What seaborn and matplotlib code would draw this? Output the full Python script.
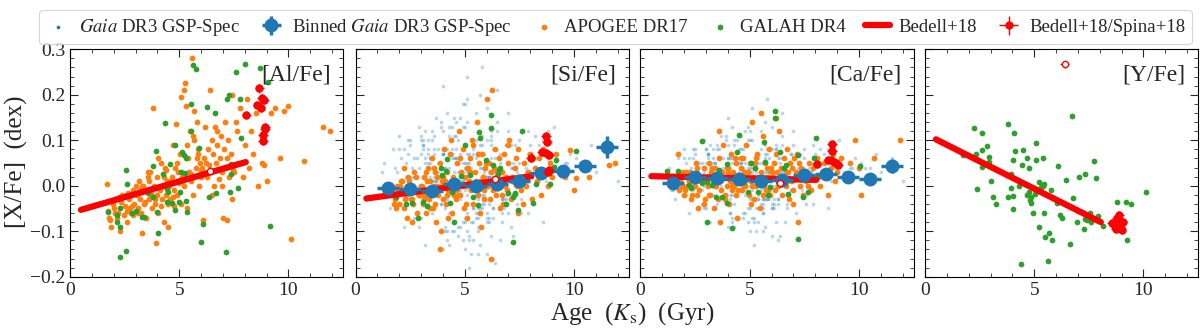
import numpy as np
import matplotlib
matplotlib.use("Agg")
import matplotlib.pyplot as plt
import seaborn as sns
from matplotlib.ticker import MultipleLocator

sns.set_style("ticks")
plt.rcParams['font.family'] = ['Liberation Serif', 'DejaVu Serif']
plt.rcParams['mathtext.fontset'] = 'stix'
plt.rcParams['axes.unicode_minus'] = True

BLUE, ORANGE, GREEN, RED = '#1f77b4', '#ff7f0e', '#2ca02c', '#ff0000'

# ---------------- Gaia DR3 GSP-Spec (individual stars) ----------------
gaia_age = [
 5.2,4.1,6.3,3.7,5.8,7.2,2.9,4.6,5.5,6.8,3.3,4.9,8.1,5.1,2.4,6.0,4.4,7.6,5.7,3.9,6.5,4.8,1.9,5.3,7.0,4.2,6.1,3.5,8.6,5.0,
 4.7,6.4,3.1,5.6,2.7,7.4,4.3,5.9,6.7,3.8,9.2,5.4,4.0,6.2,2.2,7.8,5.1,4.5,3.4,6.9,5.7,8.3,4.8,3.0,6.0,5.2,7.1,1.6,4.6,5.8,
 6.6,3.6,5.0,4.2,7.5,2.8,5.5,6.3,4.9,8.8,3.2,5.9,4.4,6.8,2.5,5.3,7.3,4.1,6.1,3.9,5.6,9.6,4.7,2.1,6.4,5.1,7.9,3.7,5.4,4.0,
 5.8,6.9,3.3,4.6,7.7,5.2,2.6,6.2,4.3,5.7,8.4,3.5,6.5,4.8,1.4,5.0,7.1,4.1,6.0,3.8,5.4,10.1,4.5,6.7,2.9,5.6,7.4,3.1,4.9,6.3,
 4.4,5.9,7.0,3.4,6.1,2.3,5.3,8.0,4.7,6.6,3.0,5.5,4.2,9.0,5.8,2.0,6.4,4.9,7.6,3.6,5.1,6.8,4.0,8.7,5.7,3.2,6.2,4.6,1.8,5.4,
 6.0,4.3,7.3,5.0,3.7,6.5,2.7,5.6,4.5,8.2,3.9,5.2,6.9,4.8,10.5,5.9,3.1,6.3,4.1,7.8,5.5,2.4,4.7,6.7,3.4,9.4,5.1,4.2,7.2,5.7,
 3.8,5.4,6.1,4.6,2.8,7.5,5.0,4.0,6.6,3.3,8.5,5.8,4.4,1.2,6.2,5.3,3.6,7.0,4.9,5.6,2.5,6.8,4.1,9.8,5.2,3.5,6.4,4.7,7.9,5.9,
 4.5,6.0,3.0,5.5,7.4,4.2,2.2,6.5,5.1,8.9,3.9,4.8,6.3,5.7,2.9,7.2,4.3,5.4,3.2,6.9,11.0,4.6,5.0,7.7,3.7,6.1,4.0,5.8,2.6,6.7,
 5.3,4.1,6.6,3.5,8.1,5.6,2.1,4.9,6.2,7.1,3.8,5.2,4.4,9.3,6.0,1.7,5.9,4.7,7.6,3.3,6.4,5.0,2.8,8.3,4.3,5.7,6.8,3.6,5.1,10.8,
 4.6,7.3,5.4,3.1,6.1,4.0,8.6,5.8,2.4,6.5,4.8,3.9,7.0,5.2,11.5,4.5,6.3,3.4,5.6,2.0,7.8,4.2,5.9,6.7,3.7,9.1,5.0,4.9,6.0,2.7,
 5.5,3.6,6.4,4.3,7.5,5.1,2.6,4.7,8.0,6.2,3.2,5.8,4.1,6.9,1.5,5.3,7.2,4.6,3.9,6.6,9.7,5.6,4.4,2.3,6.0,5.0,7.7,3.5,4.8,8.8,
 6.3,4.9,3.0,5.7,7.4,4.0,5.2,2.9,6.8,8.4,3.8,5.4,4.5,10.3,6.1,3.3,5.9,4.2,7.1,2.2,5.5,6.5,4.7,1.3,5.1,7.9,3.7,6.2,4.4,12.0]
gaia_si = [
 0.03,-0.05,0.08,-0.02,0.11,0.04,-0.09,0.01,-0.06,0.07,0.05,-0.12,0.02,0.14,-0.03,-0.08,0.06,0.00,0.09,-0.04,0.12,-0.01,0.03,-0.15,0.05,0.08,-0.07,0.01,0.10,0.18,
 -0.02,0.06,0.10,-0.10,0.02,-0.04,0.13,0.04,-0.08,0.00,0.06,0.07,-0.14,0.09,-0.01,0.03,-0.06,0.15,0.05,-0.03,0.20,0.01,-0.09,0.07,0.02,-0.11,0.04,-0.05,0.08,-0.02,
 0.05,0.11,-0.07,0.03,0.08,-0.02,0.16,-0.05,0.01,0.12,-0.13,0.04,0.07,-0.03,0.09,0.00,0.06,-0.10,0.02,0.13,-0.06,0.05,0.10,-0.04,-0.17,0.03,0.07,0.01,-0.08,0.22,
 0.00,0.09,-0.04,0.06,0.02,-0.12,0.04,0.10,-0.01,0.07,0.03,-0.06,0.14,0.01,-0.02,0.05,-0.09,0.08,0.17,0.02,-0.05,0.06,0.11,-0.03,0.04,-0.15,0.00,0.09,0.03,-0.07,
 0.07,-0.03,0.12,0.02,-0.08,0.05,0.01,0.09,-0.11,0.04,0.10,-0.02,0.06,0.03,-0.05,0.08,0.00,0.13,-0.06,0.02,0.24,-0.04,0.07,0.01,-0.13,0.05,0.11,-0.01,0.04,0.08,
 -0.06,0.04,0.09,-0.01,0.15,0.02,0.06,-0.09,0.03,0.11,-0.04,0.07,0.00,0.12,0.05,-0.02,0.08,-0.16,0.04,0.01,-0.07,0.10,0.03,-0.03,0.06,0.02,0.19,-0.10,0.05,0.00,
 0.08,-0.04,0.02,0.11,-0.06,0.05,0.13,0.00,-0.12,0.07,0.04,0.09,-0.02,0.03,0.06,-0.08,0.01,0.16,0.05,-0.05,0.10,0.02,-0.03,0.07,-0.18,0.04,0.08,-0.01,0.12,0.03,
 0.01,0.10,-0.07,0.06,0.03,-0.03,0.08,0.21,-0.10,0.05,0.02,0.07,-0.05,0.11,0.00,0.04,-0.13,0.09,0.06,-0.02,0.03,0.14,-0.08,0.05,0.01,-0.04,0.07,0.26,0.02,-0.06,
 0.04,-0.09,0.07,0.12,0.02,-0.04,0.06,0.01,-0.11,0.09,0.05,-0.01,0.13,0.03,-0.07,0.08,0.00,0.05,-0.03,0.10,0.02,-0.14,0.06,0.04,0.11,-0.05,0.01,0.07,-0.02,0.09,
 0.06,0.00,-0.05,0.09,0.03,0.12,-0.08,0.04,0.07,-0.01,0.15,0.02,-0.06,0.05,0.08,-0.10,0.01,0.06,-0.03,0.11,0.04,-0.12,0.07,0.00,0.03,0.13,-0.04,0.18,0.02,-0.07,
 -0.01,0.08,0.03,-0.06,0.10,0.05,0.00,-0.09,0.07,0.02,0.12,-0.04,0.04,0.09,-0.02,0.06,-0.11,0.01,0.14,0.03,0.05,-0.07,0.08,0.02,-0.15,0.04,0.00,0.10,-0.03,0.06,
 0.02,-0.08,0.11,0.04,-0.02,0.07,0.01,0.13,-0.05,0.09,0.03,-0.12,0.06,0.05,0.00,0.08,-0.04,0.16,0.02,-0.09,0.10,0.04,-0.01,0.05,0.07,-0.06,0.03,0.12,-0.10,0.01]
gaia_ca = [
 0.02,-0.03,0.06,0.00,0.08,0.03,-0.05,0.01,-0.04,0.05,0.04,-0.08,0.02,0.10,-0.01,-0.05,0.05,0.01,0.07,-0.02,0.09,0.00,0.03,-0.10,0.04,0.06,-0.04,0.02,0.08,0.12,
 -0.01,0.05,0.07,-0.06,0.02,-0.02,0.10,0.03,-0.05,0.01,0.05,0.05,-0.09,0.07,0.00,0.03,-0.03,0.11,0.04,-0.01,0.14,0.02,-0.06,0.05,0.02,-0.07,0.03,-0.03,0.06,-0.01,
 0.04,0.08,-0.04,0.02,0.06,-0.01,0.12,-0.03,0.01,0.09,-0.08,0.03,0.06,-0.02,0.07,0.01,0.05,-0.06,0.02,0.10,-0.04,0.04,0.08,-0.02,-0.11,0.03,0.05,0.01,-0.05,0.15,
 0.01,0.07,-0.02,0.05,0.02,-0.08,0.03,0.08,0.00,0.06,0.03,-0.04,0.11,0.01,-0.01,0.04,-0.06,0.06,0.13,0.02,-0.03,0.05,0.08,-0.02,0.03,-0.10,0.01,0.07,0.03,-0.04,
 0.05,-0.02,0.09,0.02,-0.05,0.04,0.01,0.07,-0.07,0.03,0.08,-0.01,0.05,0.03,-0.03,0.06,0.00,0.10,-0.04,0.02,0.17,-0.02,0.05,0.01,-0.09,0.04,0.08,0.00,0.03,0.06,
 -0.04,0.03,0.07,0.00,0.11,0.02,0.05,-0.06,0.03,0.08,-0.02,0.05,0.01,0.09,0.04,-0.01,0.06,-0.12,0.03,0.01,-0.05,0.08,0.02,-0.02,0.05,0.02,0.14,-0.07,0.04,0.01,
 0.06,-0.02,0.02,0.08,-0.04,0.04,0.10,0.00,-0.08,0.05,0.03,0.07,-0.01,0.02,0.05,-0.05,0.01,0.12,0.04,-0.03,0.08,0.02,-0.02,0.06,-0.13,0.03,0.06,0.00,0.09,0.02,
 0.01,0.08,-0.05,0.05,0.03,-0.02,0.06,0.16,-0.07,0.04,0.02,0.05,-0.03,0.09,0.00,0.03,-0.09,0.07,0.05,-0.01,0.03,0.11,-0.05,0.04,0.01,-0.03,0.06,0.19,0.02,-0.04,
 0.03,-0.06,0.06,0.09,0.02,-0.03,0.05,0.01,-0.08,0.07,0.04,0.00,0.10,0.03,-0.05,0.06,0.00,0.04,-0.02,0.08,0.02,-0.10,0.05,0.03,0.09,-0.03,0.01,0.06,-0.01,0.07,
 0.05,0.00,-0.03,0.07,0.03,0.09,-0.05,0.03,0.06,0.00,0.12,0.02,-0.04,0.04,0.06,-0.07,0.01,0.05,-0.02,0.08,0.03,-0.08,0.06,0.00,0.03,0.10,-0.03,0.13,0.02,-0.05,
 0.00,0.06,0.03,-0.04,0.08,0.04,0.01,-0.06,0.05,0.02,0.09,-0.03,0.04,0.07,-0.01,0.05,-0.08,0.01,0.11,0.03,0.04,-0.05,0.06,0.02,-0.11,0.03,0.00,0.08,-0.02,0.05,
 0.02,-0.05,0.08,0.03,-0.01,0.06,0.01,0.10,-0.03,0.07,0.03,-0.08,0.05,0.04,0.00,0.06,-0.03,0.13,0.02,-0.06,0.08,0.03,0.00,0.04,0.05,-0.04,0.03,0.09,-0.07,0.01]

# ---------------- Binned Gaia ----------------
bin_age = [1.5, 2.5, 3.5, 4.5, 5.5, 6.5, 7.5, 8.5, 9.5, 10.5, 11.5]
bin_age_err = [0.5] * 11
bin_si = [-0.004, -0.008, -0.012, 0.004, 0.000, 0.003, 0.011, 0.029, 0.033, 0.043, 0.085]
bin_si_err = [0.004, 0.003, 0.003, 0.003, 0.003, 0.003, 0.004, 0.005, 0.006, 0.012, 0.025]
bin_ca = [0.007, 0.020, 0.018, 0.015, 0.010, 0.012, 0.024, 0.026, 0.020, 0.015, 0.044]
bin_ca_err = [0.004, 0.003, 0.003, 0.003, 0.003, 0.003, 0.003, 0.004, 0.005, 0.008, 0.015]

# ---------------- APOGEE DR17 ----------------
apogee_age = [
 1.7,1.8,1.9,2.0,2.1,2.2,2.3,2.4,2.5,2.6,2.7,2.8,2.9,3.0,1.75,1.95,2.15,2.35,2.55,2.75,2.95,1.85,2.05,2.25,2.45,2.65,2.85,2.2,2.6,2.9,
 3.05,3.1,3.15,3.2,3.25,3.3,3.35,3.4,3.45,3.5,3.55,3.6,3.65,3.7,3.75,3.8,3.85,3.9,3.95,4.0,4.05,4.1,4.15,4.2,4.25,4.3,4.35,4.4,4.45,4.5,
 3.12,3.28,3.42,3.58,3.72,3.88,4.02,4.18,4.32,4.48,3.22,3.62,3.98,4.22,4.38,
 4.55,4.6,4.65,4.7,4.75,4.8,4.85,4.9,4.95,5.0,5.05,5.1,5.15,5.2,5.25,5.3,5.35,5.4,5.45,5.5,5.55,5.6,5.65,5.7,5.75,5.8,5.85,5.9,5.95,6.0,
 4.62,4.78,4.92,5.08,5.22,5.38,5.52,5.68,5.82,5.98,4.72,5.12,5.28,5.62,5.88,
 6.05,6.1,6.15,6.2,6.25,6.3,6.35,6.4,6.45,6.5,6.55,6.6,6.65,6.7,6.75,6.8,6.85,6.9,6.95,7.0,7.05,7.1,7.15,7.2,7.25,7.3,7.35,7.4,7.45,
 6.22,6.48,6.72,6.98,7.18,7.42,
 7.5,7.6,7.7,7.8,7.9,8.0,8.1,8.2,8.3,8.4,8.5,8.6,8.7,8.8,8.9,9.0,9.2,9.4,9.6,7.65,
 9.8,10.0,10.1,10.7,11.6,11.9]
apogee_al = [
 0.003,-0.07,-0.09,-0.05,-0.03,-0.06,-0.10,-0.02,-0.045,-0.08,-0.03,-0.06,-0.065,0.0,-0.055,-0.04,-0.07,-0.035,-0.02,-0.05,-0.04,-0.075,-0.06,-0.025,-0.065,-0.015,-0.045,-0.03,-0.055,-0.01,
 -0.02,-0.05,0.01,-0.03,-0.06,-0.105,0.0,-0.04,-0.01,-0.07,0.02,-0.03,0.03,-0.02,-0.05,0.17,0.0,-0.04,-0.125,0.02,-0.06,-0.01,0.05,-0.03,0.0,-0.08,0.04,-0.02,0.01,-0.04,
 -0.06,0.0,-0.035,0.03,-0.015,-0.03,0.06,-0.045,0.02,-0.09,-0.01,0.01,-0.02,0.0,0.035,
 0.0,-0.03,0.02,0.09,-0.01,0.04,0.135,-0.02,0.03,0.005,0.07,-0.04,0.01,0.21,0.02,0.175,-0.05,0.06,0.03,0.12,0.01,0.28,-0.02,0.1,0.04,0.14,0.08,0.0,0.05,0.02,
 0.01,-0.045,0.05,0.195,0.0,0.09,0.025,0.165,0.06,0.035,-0.025,0.02,0.225,0.11,0.07,
 0.04,-0.075,0.06,0.13,0.02,0.08,0.045,0.21,0.03,0.1,0.07,0.0,0.13,0.05,0.09,0.015,0.06,0.11,0.03,-0.07,0.08,0.14,0.04,-0.075,0.1,0.02,0.07,0.2,0.035,
 0.05,-0.02,0.12,0.0,0.06,-0.03,
 0.03,0.14,0.05,0.17,0.02,0.09,0.19,0.04,0.12,0.07,0.16,0.0,0.18,0.05,0.045,0.01,0.16,0.17,0.06,0.12,
 0.165,0.175,-0.117,0.055,0.13,0.12]
apogee_si = [
 -0.02,-0.03,0.0,-0.04,0.01,-0.05,-0.02,0.02,-0.01,-0.03,0.03,-0.06,-0.02,0.0,-0.04,-0.01,0.01,-0.07,-0.03,0.02,-0.02,-0.05,0.0,-0.03,0.01,-0.04,-0.01,0.04,-0.08,-0.02,
 0.0,-0.04,0.02,-0.02,-0.06,0.04,-0.03,0.01,-0.01,0.06,-0.05,0.0,0.03,-0.08,0.02,-0.02,0.05,-0.1,0.0,-0.03,0.08,0.01,-0.04,0.03,-0.01,0.0,0.1,-0.06,0.02,-0.02,
 -0.03,0.01,-0.05,0.04,0.0,-0.14,0.02,-0.02,0.07,-0.01,0.03,-0.04,0.01,-0.07,0.0,
 0.01,-0.03,0.05,0.0,0.12,-0.02,0.03,0.08,-0.05,0.02,0.0,-0.07,0.04,0.01,0.06,-0.01,0.1,-0.04,0.03,0.0,0.14,-0.02,0.05,0.01,-0.09,0.07,0.02,-0.03,0.04,0.19,
 -0.01,0.06,0.0,-0.04,0.03,0.09,0.01,-0.06,0.02,0.05,-0.02,0.04,0.0,0.07,-0.01,
 0.0,0.05,-0.03,0.03,0.21,-0.01,0.04,0.08,-0.02,0.02,0.06,-0.05,0.01,0.03,-0.04,0.07,0.0,0.02,-0.01,0.05,0.1,-0.03,0.02,0.01,-0.02,0.04,0.06,0.0,0.08,
 -0.16,0.03,-0.02,0.09,0.01,-0.06,
 0.02,-0.01,0.05,0.0,0.03,0.07,-0.03,0.04,0.01,0.06,-0.02,0.08,0.03,0.0,0.05,0.02,0.07,0.04,0.02,-0.04,
 0.078,-0.01,0.018,0.02,0.045,0.049]
apogee_ca = [
 0.07,0.01,0.0,-0.02,0.03,0.01,-0.03,0.02,0.0,0.04,-0.01,0.02,-0.04,0.01,-0.01,0.03,0.0,-0.02,0.05,0.01,-0.03,0.02,-0.01,0.03,0.0,-0.05,0.02,0.01,-0.02,0.04,
 0.02,0.0,0.05,-0.02,0.03,0.01,-0.05,0.04,0.0,0.02,-0.03,0.06,0.01,-0.01,0.03,0.09,-0.02,0.02,0.0,0.04,-0.04,0.01,0.07,-0.01,0.03,0.0,0.05,-0.07,0.02,0.01,
 -0.02,0.04,0.0,0.12,0.02,-0.03,0.03,0.0,0.06,-0.01,0.02,-0.08,0.04,0.01,-0.02,
 0.01,0.04,-0.01,0.06,0.02,0.0,0.09,0.03,-0.02,0.05,0.01,0.14,0.02,-0.03,0.04,0.0,0.07,0.02,-0.05,0.03,0.01,0.11,0.0,0.05,-0.01,0.04,0.02,0.08,-0.02,0.03,
 0.06,0.0,0.03,-0.04,0.05,0.01,0.16,0.02,-0.01,0.04,0.03,0.0,0.06,-0.02,0.02,
 0.02,0.05,-0.01,0.07,0.03,0.0,0.12,0.01,0.04,-0.02,0.06,0.02,0.0,0.08,0.03,-0.03,0.05,0.01,0.04,-0.01,0.06,0.03,0.02,-0.08,0.05,0.0,0.04,0.02,-0.02,
 0.15,0.01,0.03,-0.04,0.07,0.02,
 0.03,0.01,0.05,-0.01,0.04,0.02,0.06,0.0,0.03,0.05,0.02,-0.02,0.04,0.07,0.01,0.03,0.06,0.02,0.05,0.0,
 0.10,0.04,-0.02,0.06,0.05,0.10]

# ---------------- GALAH DR4 ----------------
galah_al_age = [1.72,2.16,2.16,2.3,2.3,2.3,2.55,2.56,2.59,2.82,3.0,3.3,3.38,3.58,3.8,3.8,3.96,4.0,4.05,4.27,4.36,4.42,4.42,4.5,4.6,4.65,4.82,4.8,5.0,5.03,5.1,5.15,5.21,5.27,5.3,5.33,5.38,5.53,5.56,5.64,5.75,5.9,5.98,6.11,6.25,6.36,6.63,6.7,7.16,7.2,7.27,7.32,7.36,7.59,7.7,7.77,7.85,8.0,8.72,9.07,9.14,7.39]
galah_al = [-0.057,-0.08,-0.065,-0.05,-0.09,-0.156,-0.144,0.035,0.003,-0.06,-0.056,-0.069,-0.068,-0.015,0.043,-0.025,0.076,-0.058,-0.104,0.026,0.137,-0.007,-0.035,-0.014,0.048,-0.038,0.089,-0.053,-0.036,-0.014,0.03,0.074,0.068,0.028,-0.034,0.06,-0.058,0.18,0.12,0.265,0.257,0.084,-0.124,-0.084,0.173,-0.024,0.161,-0.016,-0.146,0.19,0.2,-0.014,0.026,0.251,-0.006,0.19,0.106,0.268,0.258,0.229,-0.088,0.047]
galah_si_age = [2.87,2.31,2.59,3.26,3.9,3.98,4.17,4.14,4.52,4.32,5.02,5.22,5.65,5.22,5.6,5.83,6.22,6.22,6.57,6.91,7.22,7.45,7.19,7.64,7.84,8.27,9.07,9.17,10.09,5.96,6.6,3.64,4.44,5.37,1.85,3.1,4.83,6.3,5.68,6.53,7.3,8.15,6.99,8.92]
galah_si = [-0.071,-0.04,-0.038,-0.045,0.038,0.023,0.058,0.032,-0.079,-0.038,0.09,0.023,0.118,0.003,-0.042,-0.001,0.155,0.128,0.034,-0.04,-0.025,-0.054,-0.124,0.121,0.012,0.004,0.041,0.056,0.076,0.057,0.038,-0.012,-0.014,-0.025,-0.024,-0.036,0.021,0.045,0.104,0.026,-0.016,-0.038,-0.016,0.004]
galah_ca_age = [1.23,1.73,2.22,2.33,2.82,2.82,3.06,3.27,3.75,3.95,4.21,4.44,4.52,4.91,5.06,5.65,5.72,5.83,6.17,6.17,6.57,6.64,7.22,7.45,7.19,7.69,8.04,7.96,8.15,8.69,10.05,3.98,4.6,5.22,5.37,3.44,5.91,6.37,6.99,7.53,3.6,3.06,4.75,6.76,2.28,5.68]
galah_ca = [0.032,0.032,0.001,-0.004,0.099,0.007,-0.08,0.001,-0.025,-0.038,-0.093,0.074,0.111,-0.014,0.049,0.096,0.012,-0.021,0.165,0.15,0.038,0.045,0.067,-0.025,-0.118,-0.014,0.106,0.06,0.019,0.023,0.043,0.047,0.019,0.04,-0.014,-0.025,-0.003,0.074,0.012,0.03,0.034,0.008,0.008,-0.018,0.023,0.052]
galah_y_age = [1.73,2.23,2.35,2.38,2.59,2.6,2.63,2.85,2.91,2.94,3.03,3.11,3.25,3.78,3.79,3.93,3.95,4.01,4.02,4.04,4.06,4.12,4.29,4.41,4.46,4.49,4.67,4.67,4.74,4.75,4.83,4.85,4.86,4.95,5.02,5.09,5.09,5.22,5.22,5.33,5.39,5.42,5.45,5.46,5.5,5.65,5.68,5.79,5.82,6.05,6.07,6.19,6.27,6.47,6.64,6.72,6.78,6.98,7.04,7.28,7.31,7.34,7.4,7.54,7.62,7.72,7.83,7.94,8.13,8.81,9.2,9.26,9.44,10.14]
galah_y = [0.067,0.128,0.069,-0.007,0.115,0.041,0.078,0.088,0.053,0.063,0.010,-0.024,-0.041,-0.024,0.135,0.025,-0.004,-0.052,0.056,-0.023,0.117,0.076,-0.001,-0.172,0.045,0.079,0.062,-0.02,0.039,-0.013,-0.031,-0.025,-0.037,-0.06,-0.018,0.093,0.057,0.008,-0.091,-0.003,0.0,0.062,0.003,-0.06,-0.112,-0.166,-0.104,-0.01,-0.119,-0.038,0.043,-0.065,-0.071,0.012,-0.128,0.154,-0.026,-0.08,0.02,-0.095,0.026,-0.073,-0.076,-0.06,-0.08,0.054,0.018,-0.067,-0.088,-0.035,-0.035,-0.119,-0.041,-0.014]

# ---------------- Bedell+18 linear trends ----------------
bedell_age = [0.5, 8.05]
bedell_al = [-0.053, 0.052]
bedell_si = [-0.028, 0.021]
bedell_ca = [0.021, 0.013]
bedell_y = [0.102, -0.080]

# ---------------- Bedell+18 / Spina+18 stars ----------------
b18_al_age = [8.67, 8.79, 8.58, 8.73, 8.08, 8.95, 8.92, 8.84, 8.84, 8.88]
b18_al = [0.214, 0.192, 0.178, 0.172, 0.156, 0.130, 0.125, 0.112, 0.098, 0.188]
b18_si_age = [8.72, 8.76, 8.03, 8.54, 8.72, 8.88, 8.85, 8.80]
b18_si = [0.109, 0.096, 0.062, 0.074, 0.071, 0.067, 0.034, 0.030]
b18_ca_age = [8.76, 8.77, 8.06, 8.60, 8.85, 8.95, 8.72, 9.03]
b18_ca = [0.091, 0.076, 0.047, 0.056, 0.052, 0.049, 0.057, 0.045]
b18_y_age = [8.55, 8.80, 8.85, 8.90, 8.95, 9.00, 8.75, 8.90, 9.05, 8.70]
b18_y = [-0.082, -0.072, -0.085, -0.078, -0.090, -0.098, -0.095, -0.065, -0.080, -0.088]
b18_xerr = 0.22
b18_yerr = 0.009
open_age = 6.4
open_val = {'Al': 0.033, 'Si': 0.015, 'Ca': 0.005, 'Y': 0.267}

panels = ['Al', 'Si', 'Ca', 'Y']

fig = plt.figure(figsize=(12, 3.29), dpi=100)
lefts = [70, 355.5, 640.5, 925]
axes = [fig.add_axes([l / 1200, 52.3 / 329, 273 / 1200, 227.4 / 329]) for l in lefts]

def scat(ax, x, y, color, s, alpha=1.0, label=None, z=2):
    n = min(len(x), len(y))
    sns.scatterplot(x=list(x[:n]), y=list(y[:n]), ax=ax, color=color, s=s, alpha=alpha,
                    linewidth=0, label=label, legend=False, zorder=z)

for el, ax in zip(panels, axes):
    if el in ('Si', 'Ca'):
        gy = gaia_si if el == 'Si' else gaia_ca
        scat(ax, gaia_age, gy, BLUE, 7, alpha=0.3, label='$\\it{Gaia}$ DR3 GSP-Spec', z=1)
    if el != 'Y':
        ay = {'Al': apogee_al, 'Si': apogee_si, 'Ca': apogee_ca}[el]
        scat(ax, apogee_age, ay, ORANGE, 17, label='APOGEE DR17', z=2)
    gx, gy2 = {'Al': (galah_al_age, galah_al), 'Si': (galah_si_age, galah_si),
               'Ca': (galah_ca_age, galah_ca), 'Y': (galah_y_age, galah_y)}[el]
    scat(ax, gx, gy2, GREEN, 17, label='GALAH DR4', z=3)
    by = {'Al': bedell_al, 'Si': bedell_si, 'Ca': bedell_ca, 'Y': bedell_y}[el]
    sns.lineplot(x=bedell_age, y=by, ax=ax, color=RED, lw=4.5, label='Bedell+18',
                 legend=False, zorder=4)
    if el in ('Si', 'Ca'):
        bb = bin_si if el == 'Si' else bin_ca
        be = bin_si_err if el == 'Si' else bin_ca_err
        ax.errorbar(bin_age, bb, xerr=bin_age_err, yerr=be, fmt='o', color=BLUE, ms=9,
                    elinewidth=2.5, capsize=0, zorder=5, label='Binned $\\it{Gaia}$ DR3 GSP-Spec')
    rx, ry = {'Al': (b18_al_age, b18_al), 'Si': (b18_si_age, b18_si),
              'Ca': (b18_ca_age, b18_ca), 'Y': (b18_y_age, b18_y)}[el]
    ax.errorbar(rx, ry, xerr=b18_xerr, yerr=b18_yerr, fmt='o', color=RED, ms=5,
                elinewidth=1, capsize=0, zorder=6, label='Bedell+18/Spina+18')
    ax.errorbar([open_age], [open_val[el]], xerr=0.2, yerr=0.008, fmt='o', color=RED,
                mfc='white', mec=RED, ms=4.5, elinewidth=1, capsize=0, zorder=7)

    ax.set_xlim(0, 12.5)
    ax.set_ylim(-0.2, 0.3)
    ax.xaxis.set_major_locator(MultipleLocator(5))
    ax.xaxis.set_minor_locator(MultipleLocator(1))
    ax.yaxis.set_major_locator(MultipleLocator(0.1))
    ax.yaxis.set_minor_locator(MultipleLocator(0.02))
    ax.tick_params(which='both', direction='in', top=True, right=True, labelsize=14)
    ax.tick_params(which='major', length=6, width=0.8)
    ax.tick_params(which='minor', length=3, width=0.6)
    ax.set_xlabel('')
    ax.set_ylabel('')
    if el != 'Al':
        ax.set_yticklabels([])
    for sp in ax.spines.values():
        sp.set_linewidth(0.8)
        sp.set_color('black')
    ax.text(0.955, 0.935, '[%s/Fe]' % el, transform=ax.transAxes, ha='right', va='top',
            fontsize=17)

axes[0].yaxis.set_major_formatter(matplotlib.ticker.FuncFormatter(
    lambda v, p: ('%.1f' % v).replace('-', '\u2212') if abs(v) > 1e-9 else '0.0'))

fig.text(0.014, 0.507, '[X/Fe]  (dex)', rotation=90, ha='center', va='center', fontsize=18)
fig.text(0.527, 0.048, 'Age  ($K_\\mathrm{s}$)  (Gyr)', ha='center', va='center', fontsize=18)

h, l = axes[1].get_legend_handles_labels()
order = ['$\\it{Gaia}$ DR3 GSP-Spec', 'Binned $\\it{Gaia}$ DR3 GSP-Spec', 'APOGEE DR17',
         'GALAH DR4', 'Bedell+18', 'Bedell+18/Spina+18']
hd = {}
for hh, ll in zip(h, l):
    if ll not in hd:
        hd[ll] = hh
leg = fig.legend([hd[o] for o in order], order, loc='upper center', bbox_to_anchor=(0.513, 0.997),
                 ncol=6, fontsize=13.5, frameon=True, fancybox=True, handlelength=1.3,
                 handletextpad=0.45, columnspacing=1.05, borderpad=0.35, markerscale=1.0)
leg.get_frame().set_edgecolor('#cccccc')
leg.get_frame().set_linewidth(0.8)
for lh in leg.legend_handles[:1]:
    lh.set_alpha(1.0)

fig.savefig('out.png', dpi=100)
